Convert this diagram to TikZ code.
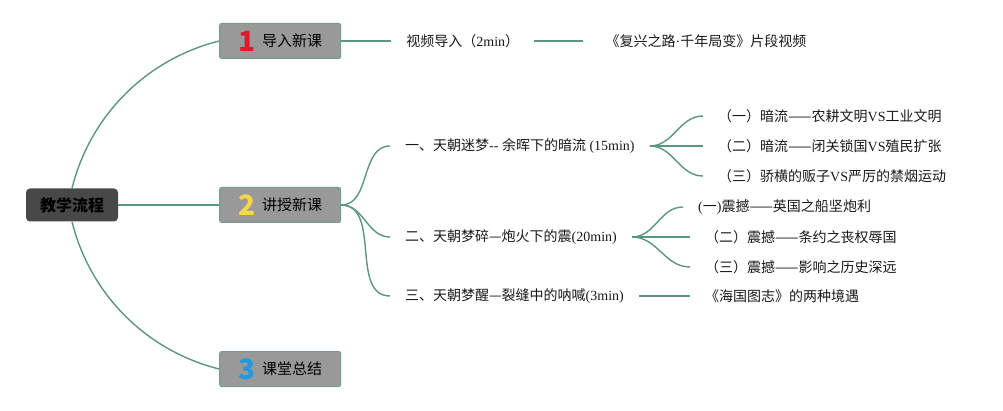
\documentclass[tikz,border=0pt]{standalone}
\usepackage{fontspec}
\setmainfont{Noto Sans CJK SC}
\newfontfamily\tmsfont{Liberation Serif}
\newcommand\tms[1]{{\tmsfont #1}}
\usepackage{xcolor}
\usepackage{tikz}
\usetikzlibrary{positioning}

\definecolor{linec}{RGB}{92,150,128}
\definecolor{boxgray}{RGB}{153,153,153}
\definecolor{boxline}{RGB}{112,160,142}
\definecolor{rootgray}{RGB}{72,72,72}
\definecolor{numred}{RGB}{218,28,44}
\definecolor{numyellow}{RGB}{246,216,72}
\definecolor{numblue}{RGB}{32,152,226}
\newcommand\bignum[2]{\smash{\raisebox{-4.5pt}{\fontsize{28}{28}\selectfont\bfseries\color{#1}#2}}\hspace{7pt}}

\begin{document}
\begin{tikzpicture} [x = 1pt, y = 1pt, node distance = 50pt,
		key/.style = {rectangle, rounded corners = 2pt, fill = boxgray, draw = boxline, line width = 1pt,
		minimum width = 121pt, minimum height = 35pt, inner sep = 0pt, font = \fontsize{15}{15}\selectfont},
		txt/.style = {anchor = west, inner xsep = 15pt, inner ysep = 2pt, text = black!90, font = \fontsize{14}{16}\selectfont},
		branch/.style = {draw = linec, line width = 1.4pt}]
		% Frame of the whole picture
		\useasboundingbox (0,0) rectangle (1003,410);

		% Root Node : the three keys are measured based to this one
		\node (root) [rectangle, rounded corners = 4pt, fill = rootgray, minimum width = 92pt, minimum height = 33pt,
		font = \fontsize{16}{16}\selectfont\bfseries] at (72,205) {教学流程};

		% Keys
		\node (k2) [key, right = 101pt of root] {\bignum{numyellow}{2}讲授新课};
		\node (k1) [key, above = 128pt of k2] {\bignum{numred}{1}导入新课};
		\node (k3) [key, below = 128pt of k2] {\bignum{numblue}{3}课堂总结};

		% Key 1
		\node (t1) [txt, right = of k1] {视频导入（\tms{2min}）};
		\node (t2) [txt, right = 56pt of t1] {《复兴之路\tms{·}千年局变》片段视频};

		% Key 2
		\node (s1) [txt] at (390,264) {一、天朝迷梦\tms{-{}- }余晖下的暗流\tms{ (15min)}};
		\node (s2) [txt] at (390,173) {二、天朝梦碎—炮火下的震\tms{(20min)}};
		\node (s3) [txt] at (390,114) {三、天朝梦醒—裂缝中的呐喊\tms{(3min)}};

		\node (c1) [txt] at (703,294) {（一）暗流——农耕文明\tms{VS}工业文明};
		\node (c2) [txt] at (703,264) {（二）暗流——闭关锁国\tms{VS}殖民扩张};
		\node (c3) [txt] at (703,234) {（三）骄横的贩子\tms{VS}严厉的禁烟运动};

		\node (d1) [txt] at (683,203) {\tms{(}一\tms{)}震撼——英国之船坚炮利};
		\node (d2) [txt] at (690,173) {（二）震撼——条约之丧权辱国};
		\node (d3) [txt] at (690,143) {（三）震撼——影响之历史深远};

		\node (e1) [txt] at (690,114) {《海国图志》的两种境遇};

		% Draw Connections
		\path [branch]
		% root => keys
		(root.east) edge (k2.west)
		(root.north) edge [out = 76, in = 194, looseness = 0.92] (k1.west)
		(root.south) edge [out = -76, in = 166, looseness = 0.92] (k3.west)
		% key 1
		(k1.east) edge (t1.west)
		(t1.east) edge [shorten >= 7pt] (t2.west)
		% key 2 => sections
		(k2.east) edge [out = 0, in = 180] (s1.west)
		(k2.east) edge [out = 0, in = 180] (s2.west)
		(k2.east) edge [out = 0, in = 180] (s3.west)
		% section 1
		(s1.east) edge [out = 0, in = 180] (c1.west)
		(s1.east) edge (c2.west)
		(s1.east) edge [out = 0, in = 180] (c3.west)
		% section 2
		(s2.east) edge [out = 0, in = 180] (d1.west)
		(s2.east) edge (d2.west)
		(s2.east) edge [out = 0, in = 180] (d3.west)
		% section 3
		(s3.east) edge (e1.west);
	\end{tikzpicture}
\end{document}
